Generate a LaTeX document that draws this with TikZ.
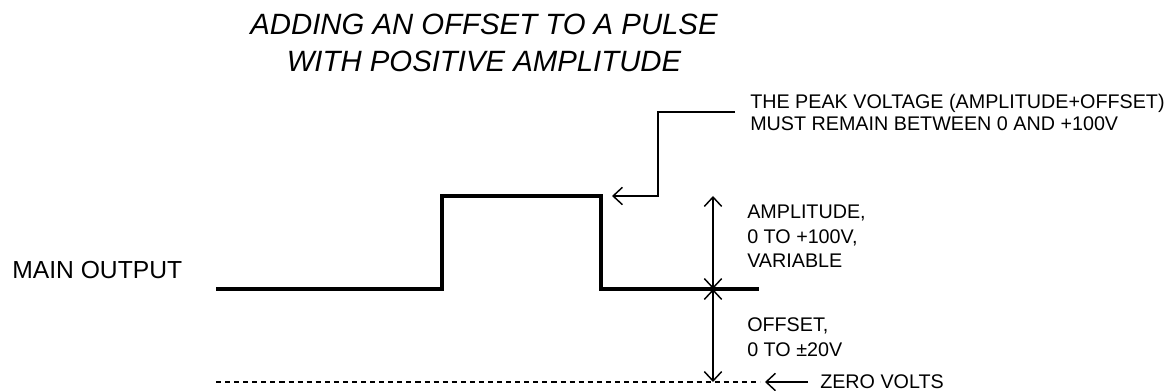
\documentclass[tikz,border=0pt]{standalone}
\usepackage{fontspec}
\setmainfont{Liberation Sans}
\usetikzlibrary{arrows.meta}
\tikzset{
  signal/.style={line width=2.8pt},
  leader/.style={line width=1.1pt},
  zeroline/.style={line width=0.8pt,dash pattern=on 3.8pt off 3pt},
  label/.style={inner sep=0pt,anchor=west,align=left,
    font=\fontsize{14.8}{18.4}\selectfont},
}
\begin{document}
\begin{tikzpicture}[x=0.75pt,y=-0.75pt,>={Straight Barb[length=7pt,width=13pt]}]
\useasboundingbox (0,0) rectangle (1172,391);
% title
\node[inner sep=0pt,align=center,font=\fontsize{22}{27.75}\selectfont\itshape]
  (title) at (484,42.5) {ADDING AN OFFSET TO A PULSE\\WITH POSITIVE AMPLITUDE};
% the pulse
\coordinate (sigstart) at (216,289);
\coordinate (riselow) at (442,289);
\coordinate (risehigh) at (442,196);
\coordinate (fallhigh) at (601,196);
\coordinate (falllow) at (601,289);
\coordinate (sigend) at (759,289);
\draw[signal] (sigstart) -- (riselow) -- (risehigh) -- (fallhigh) -- (falllow) -- (sigend);
\node[label,font=\fontsize{18.5}{22}\selectfont] (mainout) at (12,270) {MAIN OUTPUT};
% zero volts
\coordinate (zerostart) at (216,382);
\coordinate (zeroend) at (760,382);
\draw[zeroline] (zerostart) -- (zeroend);
\node[label] (zerovolts) at (820,382) {ZERO VOLTS};
\coordinate (zerotail) at (808,382);
\coordinate (zerotip) at (765,382);
\draw[leader,->] (zerotail) -- (zerotip);
% amplitude and offset
\coordinate (dimtop) at (713,196);
\coordinate (dimmid) at (713,289);
\coordinate (dimbot) at (713,382);
\draw[leader,<->] (dimmid) -- (dimtop);
\draw[leader,<->] (dimmid) -- (dimbot);
\node[label] (amplitude) at (747,236.5) {AMPLITUDE,\\0 TO +100V,\\VARIABLE};
\node[label,font=\fontsize{14.8}{18.8}\selectfont] (offset) at (747,337) {OFFSET,\\0 TO ±20V};
% peak voltage note
\node[label,font=\fontsize{14.8}{16.5}\selectfont] (peak) at (750,112)
  {THE PEAK VOLTAGE (AMPLITUDE+OFFSET)\\MUST REMAIN BETWEEN 0 AND +100V};
\coordinate (peakstart) at (735,112);
\coordinate (peakbend) at (658,112);
\coordinate (peaktip) at (612,196);
\draw[leader,->] (peakstart) -- (peakbend) |- (peaktip);
\end{tikzpicture}
\end{document}
